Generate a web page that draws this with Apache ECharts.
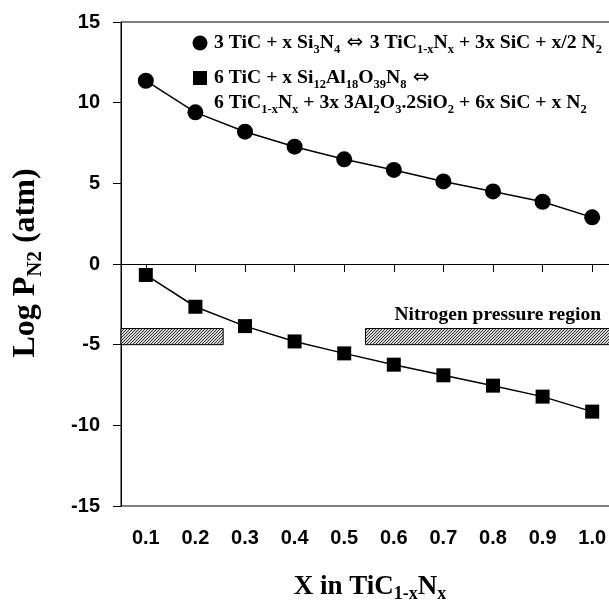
<!DOCTYPE html>
<html>
<head>
<meta charset="utf-8">
<script src="https://cdn.jsdelivr.net/npm/echarts@6/dist/echarts.min.js"></script>
<style>html,body{margin:0;padding:0;background:#fff}#c{width:609px;height:606px}</style>
</head>
<body>
<div id="c"></div>
<script>
// ---- data ----
const xValues = [0.1, 0.2, 0.3, 0.4, 0.5, 0.6, 0.7, 0.8, 0.9, 1.0];
const si3n4Series = [11.36, 9.40, 8.20, 7.27, 6.49, 5.83, 5.12, 4.50, 3.86, 2.89];
const mulliteSeries = [-0.68, -2.65, -3.85, -4.80, -5.54, -6.24, -6.90, -7.54, -8.22, -9.15];
const xTickValues = [0.1, 0.2, 0.3, 0.4, 0.5, 0.6, 0.7, 0.8, 0.9, 1.0];
const yTickValues = [-15, -10, -5, 0, 5, 10, 15];
// nitrogen pressure region bands: [xStart, xEnd, yLow, yHigh]
const regionBands = [[0.05, 0.256, -5, -4], [0.543, 1.07, -5, -4]];
const regionLabel = 'Nitrogen pressure region';

const serif = 'Liberation Serif, Times New Roman, serif';
const sans = 'Liberation Sans, Arial, sans-serif';

// hatch pattern
const pc = document.createElement('canvas');
pc.width = 3; pc.height = 3;
const g = pc.getContext('2d');
g.fillStyle = '#d8d8d8'; g.fillRect(0, 0, 3, 3);
g.fillStyle = '#333';
g.fillRect(2, 0, 1, 1); g.fillRect(1, 1, 1, 1); g.fillRect(0, 2, 1, 1);
const hatch = { image: pc, repeat: 'repeat' };

const richN = (size) => ({ fontFamily: serif, fontWeight: 'bold', fontSize: size, lineHeight: size + 2, verticalAlign: 'top', color: '#000' });
const richS = (size, pad) => ({ fontFamily: serif, fontWeight: 'bold', fontSize: size, lineHeight: size, verticalAlign: 'top', padding: [pad, 0, 0, 0], color: '#000' });
const richA = (size) => ({ fontFamily: 'DejaVu Sans', fontWeight: 'normal', fontSize: size, lineHeight: size + 2, verticalAlign: 'top', color: '#000' });

const legRich = { n: richN(19.7), s: richS(12.5, 10), a: richA(20) };

const chart = echarts.init(document.getElementById('c'), null, { renderer: 'canvas' });
chart.setOption({
  animation: false,
  backgroundColor: '#fff',
  grid: { left: 121, top: 22, width: 496, height: 484, show: true, borderColor: '#000', borderWidth: 1, backgroundColor: 'transparent', outerBoundsMode: 'none', containLabel: false },
  xAxis: {
    type: 'value', min: 0.05, max: 1.05,
    axisLine: { show: true, lineStyle: { color: '#000', width: 1 } },
    axisTick: { show: true, length: 8, lineStyle: { color: '#000' }, customValues: xTickValues },
    axisLabel: { customValues: xTickValues, formatter: v => v.toFixed(1), fontFamily: sans, fontWeight: 'bold', fontSize: 20, color: '#000', margin: 22 },
    splitLine: { show: false }
  },
  yAxis: {
    type: 'value', min: -15, max: 15, interval: 5,
    axisLine: { show: true, lineStyle: { color: '#000', width: 1 } },
    axisTick: { show: true, length: 8, lineStyle: { color: '#000' } },
    axisLabel: { fontFamily: sans, fontWeight: 'bold', fontSize: 20, color: '#000', margin: 21 },
    splitLine: { show: false }
  },
  series: [
    {
      type: 'custom',
      data: regionBands,
      z: 1,
      renderItem: (params, api) => {
        const p0 = api.coord([api.value(0), api.value(3)]);
        const p1 = api.coord([api.value(1), api.value(2)]);
        const children = [{
          type: 'rect',
          shape: { x: p0[0], y: p0[1], width: p1[0] - p0[0], height: p1[1] - p0[1] },
          style: { fill: hatch, stroke: '#000', lineWidth: 1 }
        }];
        if (params.dataIndex === 1) {
          children.push({
            type: 'text',
            style: { text: regionLabel, x: 601, y: p0[1] - 4, align: 'right', verticalAlign: 'bottom', font: 'bold 19.5px ' + serif, fill: '#000' }
          });
        }
        return { type: 'group', children };
      }
    },
    {
      type: 'line', data: xValues.map((x, i) => [x, si3n4Series[i]]),
      symbol: 'circle', symbolSize: 16, z: 3,
      lineStyle: { color: '#000', width: 1.5 }, itemStyle: { color: '#000' }
    },
    {
      type: 'line', data: xValues.map((x, i) => [x, mulliteSeries[i]]),
      symbol: 'rect', symbolSize: 14, z: 3,
      lineStyle: { color: '#000', width: 1.5 }, itemStyle: { color: '#000' }
    }
  ],
  graphic: [
    { type: 'circle', shape: { cx: 200, cy: 43, r: 7.5 }, style: { fill: '#000' }, z: 10 },
    { type: 'rect', shape: { x: 193, y: 71, width: 14, height: 14 }, style: { fill: '#000' }, z: 10 },
    { type: 'text', x: 214, y: 33, z: 10, style: { rich: legRich,
      text: '{n|3 TiC + x Si}{s|3}{n|N}{s|4}{a| ⇔ }{n|3 TiC}{s|1-x}{n|N}{s|x}{n| + 3x SiC + x/2 N}{s|2}' } },
    { type: 'text', x: 214, y: 68, z: 10, style: { rich: legRich,
      text: '{n|6 TiC + x Si}{s|12}{n|Al}{s|18}{n|O}{s|39}{n|N}{s|8}{a| ⇔}' } },
    { type: 'text', x: 214, y: 93, z: 10, style: { rich: legRich,
      text: '{n|6 TiC}{s|1-x}{n|N}{s|x}{n| + 3x 3Al}{s|2}{n|O}{s|3}{n|.2SiO}{s|2}{n| + 6x SiC + x N}{s|2}' } },
    { type: 'text', x: 27, y: 263, rotation: Math.PI / 2, z: 10, style: {
      rich: { n: richN(32), s: richS(21, 15) }, align: 'center', verticalAlign: 'middle',
      text: '{n|Log P}{s|N2}{n| (atm)}' } },
    { type: 'text', x: 370, y: 588, z: 10, style: {
      rich: { n: richN(27), s: richS(18, 12) }, align: 'center', verticalAlign: 'middle',
      text: '{n|X in TiC}{s|1-x}{n|N}{s|x}' } }
  ]
});
</script>
</body>
</html>
